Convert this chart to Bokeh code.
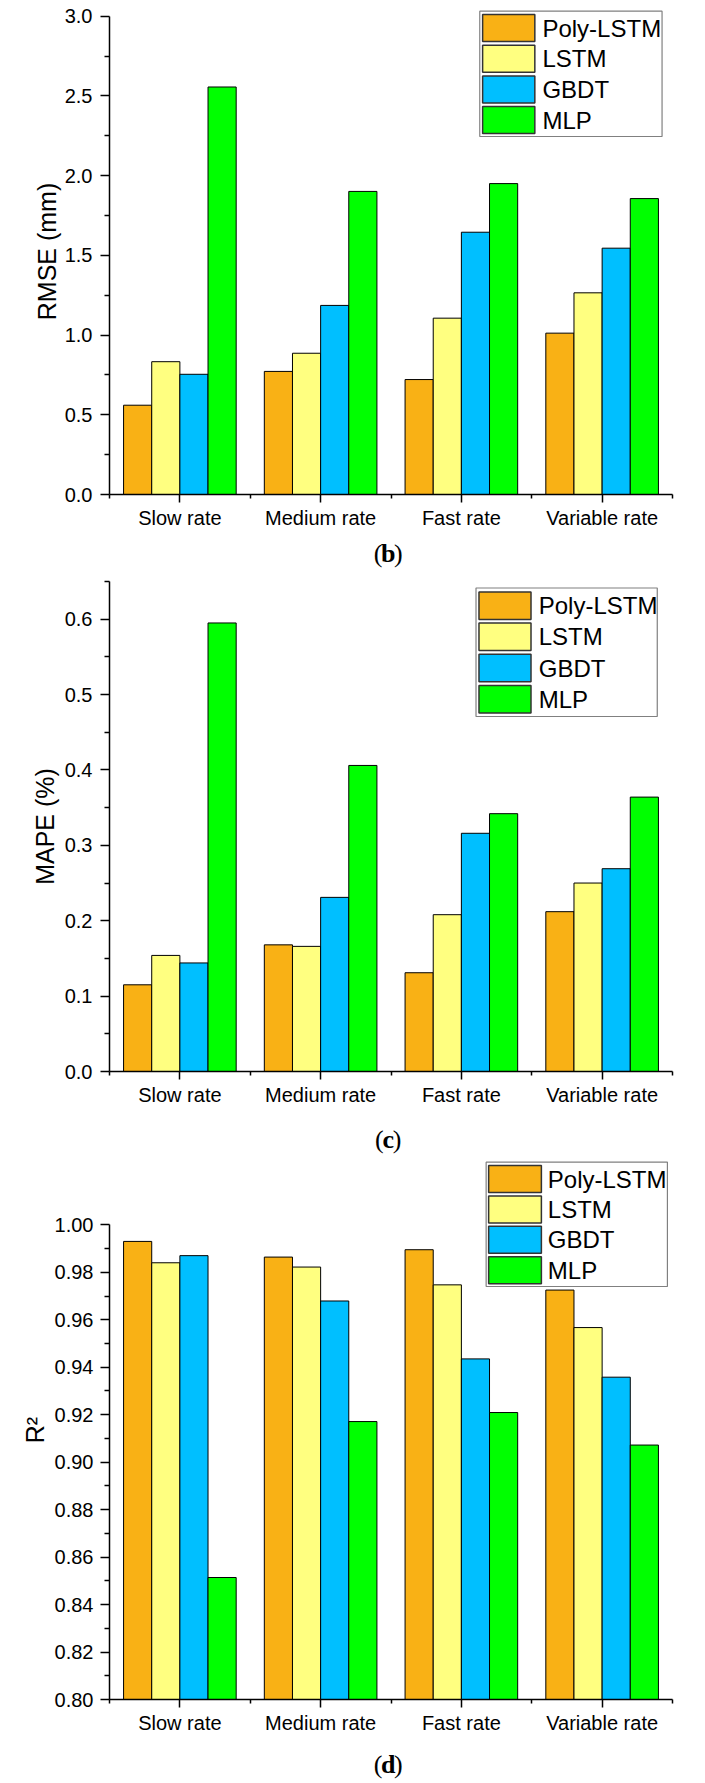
from bokeh.plotting import figure
from bokeh.layouts import column
from bokeh.models import Range1d, FixedTicker, PrintfTickFormatter, ColumnDataSource
from bokeh.core.properties import value
from bokeh.transform import dodge
from bokeh.embed import file_html
from bokeh.resources import INLINE

# ---- data -------------------------------------------------------------
categories = ["Slow rate", "Medium rate", "Fast rate", "Variable rate"]
models = ["Poly-LSTM", "LSTM", "GBDT", "MLP"]
colors = ["#F9B115", "#FFFF80", "#00BFFF", "#00FF00"]

rmse_poly = [0.560, 0.772, 0.721, 1.012]
rmse_lstm = [0.833, 0.886, 1.106, 1.265]
rmse_gbdt = [0.754, 1.186, 1.645, 1.545]
rmse_mlp = [2.556, 1.901, 1.950, 1.856]

mape_poly = [0.115, 0.168, 0.131, 0.212]
mape_lstm = [0.154, 0.166, 0.208, 0.250]
mape_gbdt = [0.144, 0.231, 0.316, 0.269]
mape_mlp = [0.595, 0.406, 0.342, 0.364]

r2_poly = [0.9930, 0.9864, 0.9895, 0.9725]
r2_lstm = [0.9840, 0.9822, 0.9747, 0.9567]
r2_gbdt = [0.9870, 0.9679, 0.9435, 0.9358]
r2_mlp = [0.8514, 0.9171, 0.9209, 0.9072]

rmse_ticks = [0.0, 0.5, 1.0, 1.5, 2.0, 2.5, 3.0]
rmse_minor = [0.25, 0.75, 1.25, 1.75, 2.25, 2.75]
mape_ticks = [0.0, 0.1, 0.2, 0.3, 0.4, 0.5, 0.6]
mape_minor = [0.05, 0.15, 0.25, 0.35, 0.45, 0.55, 0.65]
r2_ticks = [0.80, 0.82, 0.84, 0.86, 0.88, 0.90, 0.92, 0.94, 0.96, 0.98, 1.00]
r2_minor = [0.81, 0.83, 0.85, 0.87, 0.89, 0.91, 0.93, 0.95, 0.97, 0.99]

# ---- styling ----------------------------------------------------------
W = 705
SANS = "Liberation Sans"
SERIF = "Liberation Serif"
BAR_W = 0.2
OFFSETS = [-0.3, -0.1, 0.1, 0.3]
centers = [i + 0.5 for i in range(len(categories))]
boundaries = [float(i) for i in range(len(categories) + 1)]


def make_panel(series, y_label, y_start, y_axis_top, axis_top_px, ticks, minor,
               fmt, page_top, height, frame, legend_geom, tick_standoff,
               label_standoff):
    left, right, top, bottom = frame
    scale = (bottom - axis_top_px) / (y_axis_top - y_start)
    y_end = y_start + (bottom - top) / scale

    p = figure(width=W, height=height, x_range=Range1d(0, 4),
               y_range=Range1d(y_start, y_end), output_backend="svg",
               toolbar_location=None, min_border_left=left,
               min_border_right=W - right, min_border_top=top - page_top,
               min_border_bottom=page_top + height - bottom)
    p.outline_line_color = None
    p.xgrid.visible = False
    p.ygrid.visible = False
    p.background_fill_color = "white"
    p.border_fill_color = "white"

    src = dict(pos=centers, cat=categories)
    for name, vals in zip(models, series):
        src[name] = vals
    source = ColumnDataSource(src)
    for name, color, off in zip(models, colors, OFFSETS):
        p.vbar(x=dodge("pos", off), top=name, bottom=y_start, width=BAR_W,
               source=source, fill_color=color, line_color="black",
               line_width=1)

    # x axis: category names at centres, short ticks at boundaries
    xa = p.xaxis[0]
    xa.ticker = FixedTicker(ticks=centers, minor_ticks=boundaries)
    xa.major_label_overrides = {c: n for c, n in zip(centers, categories)}
    xa.major_tick_out = 8
    xa.major_tick_in = 0
    xa.minor_tick_out = 4
    xa.minor_tick_in = 0
    xa.major_label_standoff = 4
    xa.major_label_text_font = SANS
    xa.major_label_text_font_size = "20px"
    xa.major_label_text_color = "black"

    ya = p.yaxis[0]
    ya.bounds = (y_start, y_axis_top)
    ya.ticker = FixedTicker(ticks=ticks, minor_ticks=minor)
    ya.formatter = PrintfTickFormatter(format=fmt)
    ya.major_tick_out = 9
    ya.major_tick_in = 0
    ya.minor_tick_out = 5
    ya.minor_tick_in = 0
    ya.major_label_standoff = tick_standoff
    ya.major_label_text_font = SANS
    ya.major_label_text_font_size = "20px"
    ya.major_label_text_color = "black"
    ya.axis_label = y_label
    ya.axis_label_text_font = SANS
    ya.axis_label_text_font_size = "25px"
    ya.axis_label_text_font_style = "normal"
    ya.axis_label_text_color = "black"
    ya.axis_label_standoff = label_standoff

    for ax in (xa, ya):
        ax.axis_line_color = "black"
        ax.axis_line_width = 1.5
        ax.major_tick_line_color = "black"
        ax.major_tick_line_width = 1.5
        ax.minor_tick_line_color = "black"
        ax.minor_tick_line_width = 1.5

    # legend box, laid out in page pixels and mapped into the frame
    def to_data(px, py):
        xd = 4.0 * (px - left) / (right - left)
        yd = y_end - (py - top) / scale
        return xd, yd

    box, sw_left, first_top, period, sw_w, sw_h, text_x = legend_geom
    bx0, by0 = to_data(box[0], box[1])
    bx1, by1 = to_data(box[2], box[3])
    p.quad(left=[bx0], right=[bx1], top=[by0], bottom=[by1],
           fill_color="white", line_color="#808080", line_width=1.2)
    for j, (name, color) in enumerate(zip(models, colors)):
        t = first_top + j * period
        sx0, sy0 = to_data(sw_left, t)
        sx1, sy1 = to_data(sw_left + sw_w, t + sw_h)
        p.quad(left=[sx0], right=[sx1], top=[sy0], bottom=[sy1],
               fill_color=color, line_color="#333333", line_width=1.5)
        tx, ty = to_data(text_x, t + sw_h / 2)
        p.text(x=[tx], y=[ty], text=[name], text_align="left",
               text_baseline="middle", text_font=value(SANS),
               text_font_size="24px", text_color="black")
    return p


def make_caption(letter, page_top, height, center_y, center_x=349):
    p = figure(width=W, height=height, x_range=Range1d(0, W),
               y_range=Range1d(0, height), output_backend="svg",
               toolbar_location=None, min_border=0,
               x_axis_type=None, y_axis_type=None)
    p.outline_line_color = None
    p.xgrid.visible = False
    p.ygrid.visible = False
    y = page_top + height - center_y
    half = 7.2 if letter in "bd" else 5.8
    common = dict(text_baseline="middle", text_font=value(SERIF),
                  text_font_size="26px", text_color="black")
    p.text(x=[center_x - half], y=[y], text=["("], text_align="right", **common)
    p.text(x=[center_x], y=[y], text=[letter], text_align="center",
           text_font_style="bold", **common)
    p.text(x=[center_x + half], y=[y], text=[")"], text_align="left", **common)
    return p


panel_b = make_panel(
    [rmse_poly, rmse_lstm, rmse_gbdt, rmse_mlp], "RMSE (mm)",
    0.0, 3.0, 15.7, rmse_ticks, rmse_minor, "%.1f",
    page_top=0, height=535, frame=(79, 672, 8, 494),
    legend_geom=((469, 10.7, 661, 136), 472, 14, 30.7, 55, 27, 535),
    tick_standoff=8, label_standoff=1)
cap_b = make_caption("b", 535, 40, 553)

panel_c = make_panel(
    [mape_poly, mape_lstm, mape_gbdt, mape_mlp], "MAPE (%)",
    0.0, 0.65, 581, mape_ticks, mape_minor, "%.1f",
    page_top=575, height=537, frame=(83, 689, 581, 1071),
    legend_geom=((477.5, 587.5, 672.6, 716), 480.7, 591.4, 31.2, 56, 27.5, 545),
    tick_standoff=8, label_standoff=3)
cap_c = make_caption("c", 1112, 47, 1139)

panel_d = make_panel(
    [r2_poly, r2_lstm, r2_gbdt, r2_mlp], "R\u00b2",
    0.80, 1.00, 1224.3, r2_ticks, r2_minor, "%.2f",
    page_top=1159, height=581, frame=(109, 696, 1160, 1699),
    legend_geom=((501.7, 1161.7, 690.7, 1286), 504.3, 1165, 30.4, 55, 27, 566),
    tick_standoff=7, label_standoff=3)
cap_d = make_caption("d", 1740, 43, 1764)

layout = column(panel_b, cap_b, panel_c, cap_c, panel_d, cap_d, spacing=0)
open("out.html", "w").write(file_html(layout, INLINE))
